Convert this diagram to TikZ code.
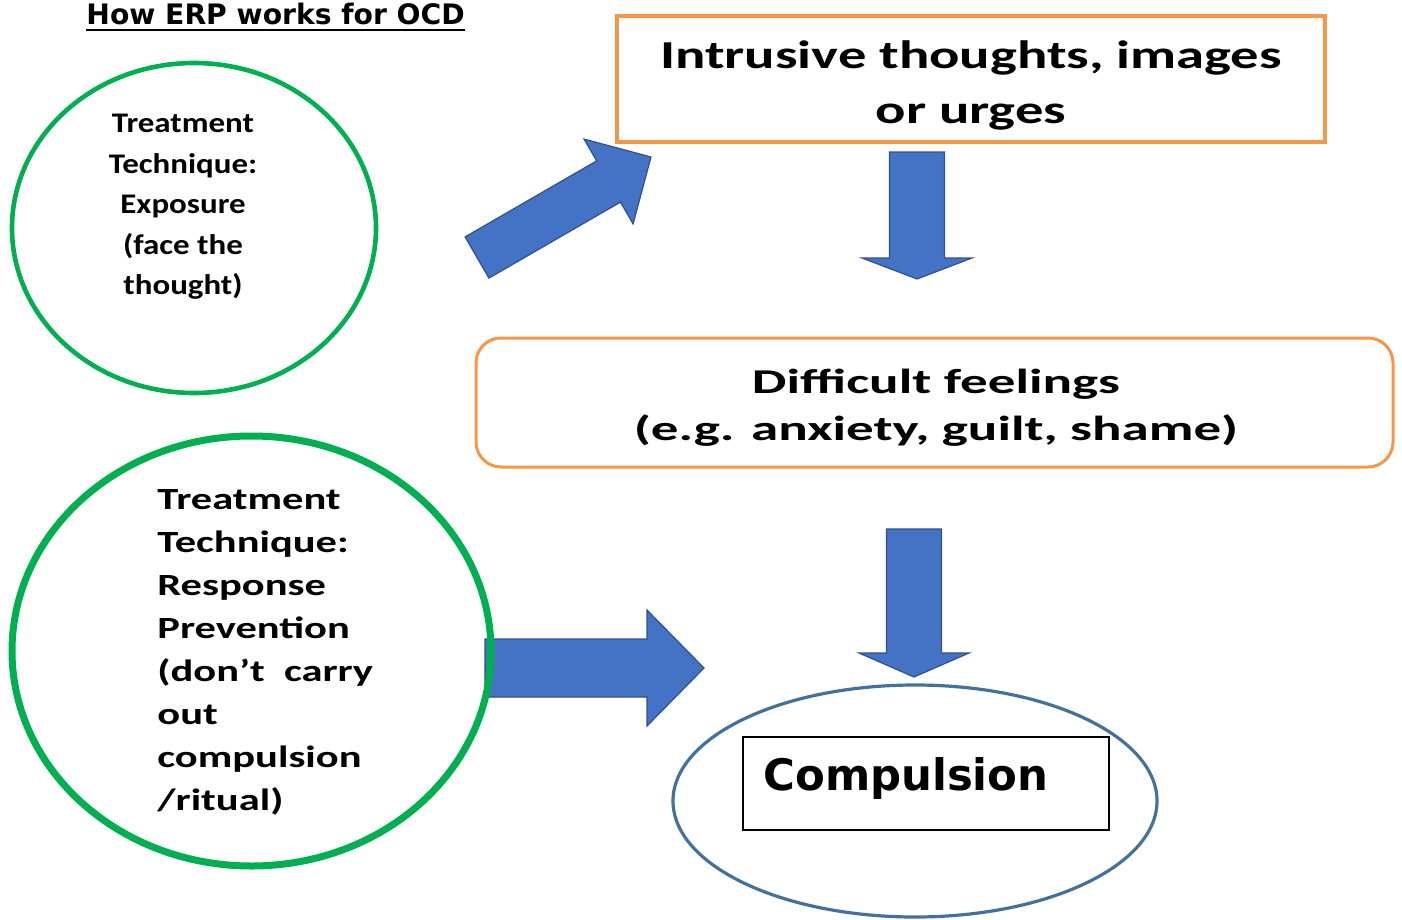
\documentclass[tikz,border=0pt]{standalone}
\usepackage{fontspec}
\setmainfont{Carlito}
\newfontfamily\titlefont{DejaVu Sans}
\newfontfamily\compfont{DejaVu Sans}
\newfontfamily\exposurefont[FakeStretch=1.16]{Carlito}
\newfontfamily\responsefont[FakeStretch=1.38]{Carlito}
\newfontfamily\intrusivefont[FakeStretch=1.43]{Carlito}
\newfontfamily\feelingsfont[FakeStretch=1.58]{Carlito}
\usepackage{tikz}
\usetikzlibrary{calc,shapes.geometric}

\definecolor{ringgreen}{RGB}{0,176,80}
\definecolor{boxorange}{RGB}{247,150,70}
\definecolor{arrowfill}{RGB}{68,114,196}
\definecolor{arrowline}{RGB}{47,82,143}
\definecolor{ovalblue}{RGB}{65,113,156}

\tikzset{
	ring/.style={draw=ringgreen, ellipse, inner sep=0pt},
	orangebox/.style={draw=boxorange, rectangle, inner sep=0pt},
	blockarrow/.style={fill=arrowfill, draw=arrowline, line width=0.6pt, line join=miter},
}

% #1 tail, #2 tip, #3 half shaft, #4 half head, #5 head length
\newcommand{\blockarrow}[5]{%
	\coordinate (hb) at ($(#2)!#5!(#1)$);
	\filldraw[blockarrow] ($(#1)!#3!90:(#2)$) -- ($(hb)!#3!90:(#2)$)
		-- ($(hb)!#4!90:(#2)$) -- (#2) -- ($(hb)!#4!-90:(#2)$)
		-- ($(hb)!#3!-90:(#2)$) -- ($(#1)!#3!-90:(#2)$) -- cycle;
}

\begin{document}
\begin{tikzpicture}[x=0.5pt,y=-0.5pt]

% frame %{{{2

	\useasboundingbox (0,0) rectangle (1402,920);

% title %{{{2

	\node[inner sep=0pt, anchor=base west, font={\titlefont\bfseries\fontsize{14.1}{17}\selectfont}] (title) at (86,25)
		{How ERP works for OCD};
	\draw[line width=1.2pt] ([yshift=-2.5pt]title.base west) -- ([yshift=-2.5pt]title.base east);

% arrow ends %{{{2

	\coordinate (diagtail) at (477,257.5);
	\coordinate (diagtip)  at (651,157);
	\coordinate (downatail) at (917,152);
	\coordinate (downatip)  at (917,279);
	\coordinate (downbtail) at (914,529);
	\coordinate (downbtip)  at (914,677);
	\coordinate (righttail) at (485,668);
	\coordinate (righttip)  at (704,668);

% arrows %{{{2

	\blockarrow{diagtail}{diagtip}{11.9pt}{24.5pt}{24.5pt}
	\blockarrow{downatail}{downatip}{13.75pt}{27.5pt}{10.5pt}
	\blockarrow{downbtail}{downbtip}{13.75pt}{27.5pt}{12pt}
	\blockarrow{righttail}{righttip}{14.5pt}{29pt}{28.5pt}

% boxes and rings %{{{2

	\node[ring, line width=2.3pt, minimum width=182pt, minimum height=165pt] (exposure) at (194,228) {};
	\node[ring, line width=3.5pt, minimum width=239.5pt, minimum height=215pt] (response) at (251.5,651) {};

	\node[orangebox, line width=2pt, minimum width=354pt, minimum height=63pt] (intrusive) at (971,79) {};
	\node[orangebox, line width=1.5pt, rounded corners=12.5pt, minimum width=458.5pt, minimum height=64.5pt] (feelings) at (934.5,402.5) {};

	\node[draw=ovalblue, ellipse, line width=1.6pt, minimum width=242pt, minimum height=116pt] (compulsion) at (915,801) {};
	\node[draw=black, rectangle, line width=1pt, minimum width=183pt, minimum height=46.5pt] (compbox) at (926,783.5) {};

% texts %{{{2

	\node[align=center, font={\exposurefont\bfseries\fontsize{14.2}{20.25}\selectfont}] (exposuretext) at (183,207)
		{Treatment\\Technique:\\Exposure\\(face the\\thought)};
	\node[align=left, inner sep=0pt, anchor=west, font={\responsefont\bfseries\fontsize{15.4}{21.5}\selectfont}] (responsetext) at (157,652)
		{Treatment\\Technique:\\Response\\Prevention\\(don’t~ carry\\out\\compulsion\\/ritual)};
	\node[align=center, font={\intrusivefont\bfseries\fontsize{19.8}{27.5}\selectfont}] (intrusivetext) at (971,85)
		{Intrusive thoughts, images\\or urges};
	\node[align=center, font={\feelingsfont\bfseries\fontsize{17.4}{23.5}\selectfont}] (feelingstext) at (936,408)
		{Difficult feelings\\(e.g. anxiety, guilt, shame)};
	\node[inner sep=0pt, anchor=base west, font={\compfont\bfseries\fontsize{21.7}{26}\selectfont}] (comptext) at (763,790)
		{Compulsion};

% closing %{{{2

\end{tikzpicture}
\end{document}
